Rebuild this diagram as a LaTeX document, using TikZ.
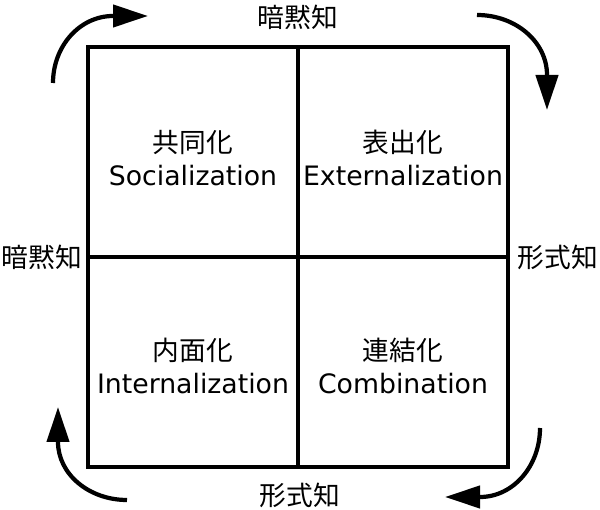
\documentclass[tikz,border=0pt]{standalone}
\usepackage{fontspec}
\setmainfont{DejaVu Sans}
\newfontfamily\jp{Noto Sans CJK JP}
\usetikzlibrary{arrows.meta}

\begin{document}
\begin{tikzpicture}[x=0.25mm,y=0.25mm,
  quad/.style={align=center,font=\fontsize{19}{23.4}\selectfont},
  side/.style={font=\jp\fontsize{19}{23}\selectfont},
  frame/.style={line width=2.3pt},
  flow/.style={line width=3pt,-{Triangle[length=8.75mm,width=5.5mm]}}]
\useasboundingbox (0,0) rectangle (600,510);
% matrix frame
\draw[frame] (88,43) rectangle (508,463);
\draw[frame] (298,43) -- (298,463);
\draw[frame] (88,253) -- (508,253);
% quadrants
\node[quad] (soc) at (193,352) {{\jp 共同化}\\Socialization};
\node[quad] (ext) at (403,352) {{\jp 表出化}\\Externalization};
\node[quad] (int) at (193,144) {{\jp 内面化}\\Internalization};
\node[quad] (com) at (403,144) {{\jp 連結化}\\Combination};
% axis labels
\node[side] (tacittop) at (298,493) {暗黙知};
\node[side] (tacitleft) at (42,253) {暗黙知};
\node[side] (explright) at (558,253) {形式知};
\node[side] (explbottom) at (300,15) {形式知};
% spiral arrows
\coordinate (tl) at (53,427);
\coordinate (tr) at (477,495);
\coordinate (br) at (540,82);
\coordinate (bl) at (127,10);
\draw[flow] (tl) arc[start angle=180,end angle=90,x radius=60,y radius=67] -- ++(35,0);
\draw[flow] (tr) arc[start angle=90,end angle=0,x radius=70,y radius=60] -- ++(0,-35);
\draw[flow] (br) arc[start angle=0,end angle=-90,x radius=60,y radius=69] -- ++(-35,0);
\draw[flow] (bl) arc[start angle=270,end angle=180,x radius=69,y radius=58] -- ++(0,35);
\end{tikzpicture}
\end{document}
